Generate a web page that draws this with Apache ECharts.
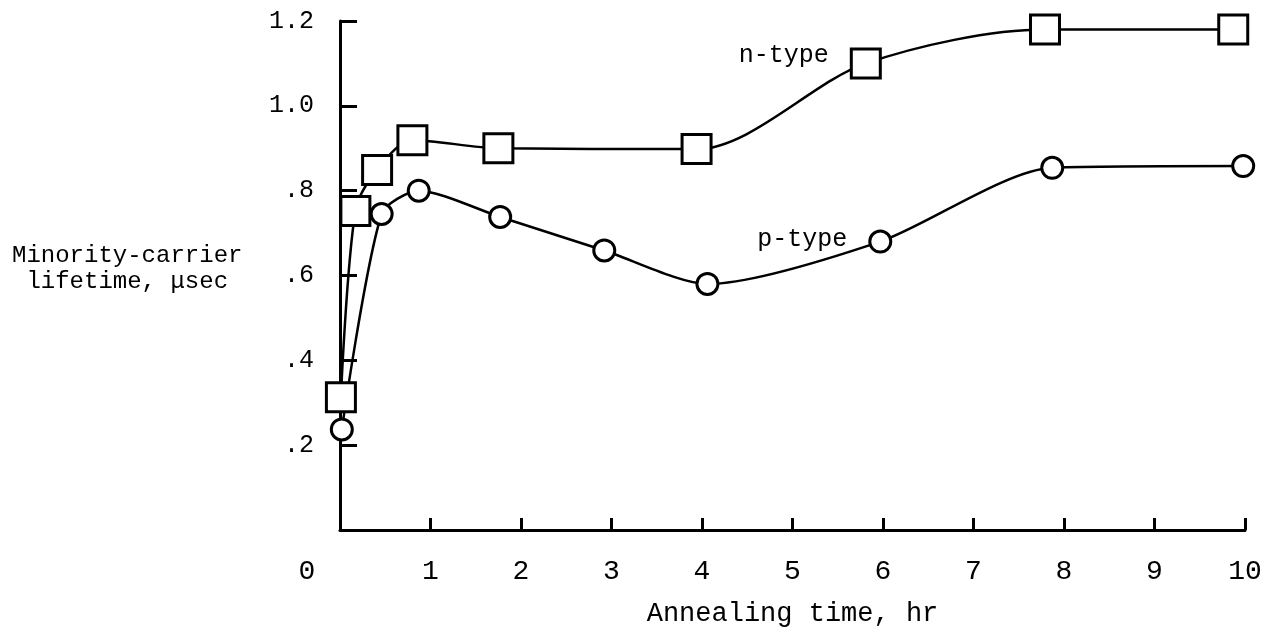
<!DOCTYPE html>
<html>
<head>
<meta charset="utf-8">
<script src="https://cdn.jsdelivr.net/npm/echarts@6/dist/echarts.min.js"></script>
<style>
html,body{margin:0;padding:0;background:#fff;}
#chart{width:1268px;height:632px;}
</style>
</head>
<body>
<div id="chart"></div>
<script>
// ---- data ----
const nTime = [0.01, 0.17, 0.41, 0.80, 1.75, 3.94, 5.81, 7.79, 9.87];
const nLife = [0.313, 0.752, 0.849, 0.919, 0.90, 0.898, 1.10, 1.18, 1.18];
const pTime = [0.02, 0.46, 0.87, 1.77, 2.92, 4.06, 5.97, 7.87, 9.98];
const pLife = [0.237, 0.745, 0.80, 0.738, 0.659, 0.58, 0.68, 0.854, 0.858];
const yTickLabels = {'0.2': '.2', '0.4': '.4', '0.6': '.6', '0.8': '.8', '1': '1.0', '1.2': '1.2'};
const xTickLabels = ['0','1','2','3','4','5','6','7','8','9','10'];
const nName = 'n-type';
const pName = 'p-type';
const xTitle = 'Annealing time, hr';
const yTitle = 'Minority-carrier\nlifetime, μsec';

const FONT = "'Liberation Mono', 'DejaVu Sans Mono', monospace";
const chart = echarts.init(document.getElementById('chart'), null, {renderer: 'canvas'});

function pairs(xs, ys) { return xs.map((x, i) => [x, ys[i]]); }

function withLabel(data, idx, name, dist, off) {
  return data.map((d, i) => {
    if (i !== idx) return d;
    return {
      value: d,
      label: {
        show: true, formatter: name, position: 'left', distance: dist, offset: off,
        fontFamily: FONT, fontSize: 25, color: '#000'
      }
    };
  });
}

const option = {
  backgroundColor: '#fff',
  animation: false,
  grid: {left: 340, right: 23, top: 21, bottom: 94, containLabel: false},
  xAxis: {
    type: 'value', min: 0, max: 10, interval: 1,
    name: xTitle, nameLocation: 'middle', nameGap: 70,
    nameTextStyle: {fontFamily: FONT, fontSize: 27, color: '#000'},
    axisLine: {show: true, lineStyle: {color: '#000', width: 3}},
    axisTick: {show: true, inside: true, length: 12, lineStyle: {color: '#000', width: 3}},
    splitLine: {show: false},
    axisLabel: {
      margin: 28, fontFamily: FONT, fontSize: 28, color: '#000',
      formatter: v => v === 0 ? '{z|' + xTickLabels[0] + '}' : xTickLabels[Math.round(v)],
      rich: {z: {fontFamily: FONT, fontSize: 28, color: '#000', padding: [0, 66, 0, 0]}}
    }
  },
  yAxis: {
    type: 'value', min: 0, max: 1.2, interval: 0.2,
    axisLine: {show: true, lineStyle: {color: '#000', width: 3}},
    axisTick: {show: true, inside: true, length: 17, lineStyle: {color: '#000', width: 3}},
    splitLine: {show: false},
    axisLabel: {
      margin: 26, fontFamily: FONT, fontSize: 25, color: '#000',
      formatter: v => yTickLabels[String(Math.round(v * 10) / 10)] || ''
    }
  },
  graphic: [{
    type: 'text', left: 12, top: 243,
    style: {text: yTitle, font: "24px 'Liberation Mono'", fill: '#000', textAlign: 'center', lineHeight: 26},
    x: 133
  }],
  series: [
    {
      name: nName, type: 'line', smooth: 0.3,
      data: withLabel(pairs(nTime, nLife), 6, nName, 21, [0, -8]),
      symbol: 'rect', symbolSize: 29,
      itemStyle: {color: '#fff', borderColor: '#000', borderWidth: 3},
      lineStyle: {color: '#000', width: 2.5},
      z: 3
    },
    {
      name: pName, type: 'line', smooth: 0.25,
      data: withLabel(pairs(pTime, pLife), 6, pName, 21, [0, -2]),
      symbol: 'circle', symbolSize: 21,
      itemStyle: {color: '#fff', borderColor: '#000', borderWidth: 3},
      lineStyle: {color: '#000', width: 2.5},
      z: 2
    }
  ]
};
chart.setOption(option);
</script>
</body>
</html>
